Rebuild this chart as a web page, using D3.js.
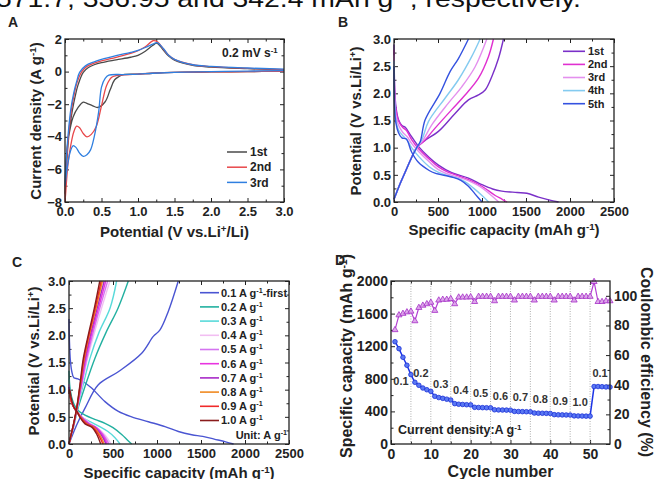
<!DOCTYPE html>
<html>
<head>
<meta charset="utf-8">
<script src="https://cdn.jsdelivr.net/npm/d3@7"></script>
<style>
  body { margin: 0; background: #fff; }
  svg { display: block; font-family: "Liberation Sans", Arial, sans-serif; }
  .tick text { font-weight: bold; fill: #222; }
  .ttl { font-size: 15px; font-weight: bold; fill: #222; }
  .plbl { font-size: 14px; font-weight: bold; fill: #222; }
  .leg { font-size: 11px; font-weight: bold; fill: #222; }
</style>
</head>
<body>
<script>
// ---- Panel A: cyclic voltammetry, [potential V, current density A/g]
const cvLabels = ["1st", "2nd", "3rd"];
const cv1st = [[3.0,0.02],[2.5,0.0],[2.0,-0.02],[1.5,-0.05],[1.2,-0.1],[1.0,-0.15],[0.8,-0.18],[0.74,-0.3],[0.68,-0.5],[0.62,-1.1],[0.55,-1.85],[0.45,-2.2],[0.38,-2.1],[0.3,-1.95],[0.25,-1.87],[0.18,-2.2],[0.11,-2.8],[0.05,-4.0],[0.02,-5.2],[0.0,-7.5],
  [0.02,-5.8],[0.06,-3.6],[0.1,-2.4],[0.14,-1.5],[0.18,-0.8],[0.25,-0.05],[0.32,0.25],[0.4,0.42],[0.5,0.55],[0.7,0.72],[0.9,0.88],[1.0,1.0],[1.1,1.25],[1.2,1.6],[1.26,1.74],[1.35,1.3],[1.42,0.95],[1.5,0.7],[1.75,0.38],[2.0,0.28],[2.5,0.18],[3.0,0.1]];
const cv2nd = [[3.0,0.02],[2.5,0.0],[2.0,-0.02],[1.5,-0.05],[1.2,-0.1],[1.0,-0.15],[0.8,-0.2],[0.7,-0.25],[0.64,-0.35],[0.57,-0.85],[0.5,-2.1],[0.43,-3.35],[0.36,-3.85],[0.3,-4.0],[0.25,-3.8],[0.2,-3.45],[0.16,-3.35],[0.12,-3.7],[0.08,-4.5],[0.04,-5.7],[0.0,-8.0],
  [0.02,-5.6],[0.05,-3.8],[0.09,-2.3],[0.13,-1.3],[0.17,-0.6],[0.23,0.0],[0.3,0.32],[0.4,0.52],[0.5,0.66],[0.7,0.88],[0.9,1.12],[1.0,1.28],[1.1,1.52],[1.21,1.9],[1.27,1.82],[1.35,1.38],[1.42,1.0],[1.5,0.75],[1.75,0.42],[2.0,0.3],[2.5,0.2],[3.0,0.12]];
const cv3rd = [[3.0,0.06],[2.5,0.03],[2.0,0.0],[1.5,-0.05],[1.2,-0.1],[1.0,-0.15],[0.8,-0.18],[0.6,-0.22],[0.55,-0.42],[0.5,-0.95],[0.46,-2.5],[0.4,-4.0],[0.35,-4.8],[0.3,-5.1],[0.25,-5.2],[0.2,-5.0],[0.15,-4.65],[0.11,-4.55],[0.07,-4.95],[0.03,-5.9],[0.0,-7.0],
  [0.02,-5.2],[0.05,-3.5],[0.08,-2.3],[0.12,-1.3],[0.16,-0.6],[0.2,-0.05],[0.28,0.35],[0.4,0.6],[0.5,0.75],[0.7,0.98],[0.9,1.18],[1.0,1.3],[1.1,1.48],[1.2,1.68],[1.26,1.78],[1.35,1.4],[1.42,1.0],[1.5,0.75],[1.75,0.42],[2.0,0.32],[2.5,0.22],[3.0,0.15]];

// ---- Panel B: first five cycles, [capacity mAh/g, potential V]
const cycleLabels = ["1st", "2nd", "3rd", "4th", "5th"];
const dis1st = [[0,2.9],[8,2.1],[22,1.75],[50,1.52],[90,1.41],[130,1.37],[180,1.25],[280,1.02],[400,0.82],[505,0.68],[656,0.54],[846,0.44],[998,0.32],[1120,0.24],[1225,0.2],[1400,0.175],[1510,0.16],[1643,0.09],[1760,0.04],[1870,0]];
const dis2nd = [[0,2.8],[8,2.0],[22,1.7],[50,1.5],[100,1.37],[140,1.32],[200,1.15],[280,0.98],[400,0.79],[500,0.65],[600,0.56],[700,0.5],[846,0.41],[998,0.29],[1080,0.2],[1150,0.12],[1230,0.05],[1285,0]];
const dis3rd = [[0,2.7],[8,1.9],[22,1.6],[50,1.42],[100,1.28],[150,1.2],[200,1.08],[280,0.93],[400,0.74],[500,0.6],[600,0.52],[700,0.47],[800,0.42],[900,0.35],[1000,0.26],[1100,0.13],[1190,0]];
const dis4th = [[0,2.6],[8,1.8],[22,1.5],[50,1.33],[100,1.22],[150,1.14],[200,1.0],[280,0.84],[400,0.65],[500,0.55],[600,0.49],[700,0.45],[800,0.38],[900,0.26],[1000,0.12],[1075,0]];
const dis5th = [[0,2.5],[8,1.7],[22,1.45],[50,1.28],[90,1.18],[140,1.16],[200,0.92],[277,0.73],[400,0.58],[466,0.53],[656,0.46],[760,0.4],[846,0.29],[920,0.15],[1000,0]];
const chg1st = [[0,0.05],[60,0.3],[130,0.56],[200,0.82],[258,1.0],[350,1.13],[505,1.3],[694,1.63],[846,1.88],[960,1.97],[1036,2.06],[1112,2.31],[1187,2.64],[1244,3.0]];
const chg2nd = [[0,0.05],[60,0.3],[130,0.56],[200,0.82],[258,1.0],[340,1.12],[467,1.36],[656,1.7],[808,1.97],[960,2.28],[1074,2.68],[1130,3.0]];
const chg3rd = [[0,0.05],[60,0.3],[130,0.56],[200,0.82],[258,1.0],[330,1.14],[429,1.42],[618,1.82],[770,2.12],[922,2.49],[1055,3.0]];
const chg4th = [[0,0.05],[60,0.3],[130,0.56],[200,0.82],[258,1.0],[320,1.16],[391,1.48],[580,1.91],[732,2.25],[884,2.68],[979,3.0]];
const chg5th = [[0,0.05],[60,0.3],[130,0.56],[200,0.82],[258,1.0],[300,1.12],[353,1.51],[523,2.0],[637,2.4],[732,2.64],[846,3.0]];

// ---- Panel C: rate curves, [capacity mAh/g, potential V]
const rateLabels = ["0.1", "0.2", "0.3", "0.4", "0.5", "0.6", "0.7", "0.8", "0.9", "1.0"];
const disR01 = [[0,2.3],[5,1.9],[15,1.55],[30,1.35],[55,1.22],[100,1.2],[150,1.16],[250,1.04],[409,0.78],[561,0.6],[712,0.5],[902,0.41],[1091,0.32],[1243,0.23],[1395,0.17],[1520,0.14],[1650,0.09],[1780,0.04],[1870,0]];
const disR02 = [[0,1.35],[10,1.05],[30,0.86],[60,0.72],[100,0.62],[182,0.53],[300,0.45],[409,0.38],[500,0.3],[602,0.17],[660,0.08],[712,0]];
const disR03 = [[0,1.2],[10,0.95],[30,0.78],[60,0.66],[120,0.52],[239,0.41],[350,0.32],[443,0.23],[520,0.12],[580,0]];
const disR04 = [[0,1.1],[10,0.93],[30,0.78],[60,0.66],[120,0.54],[180,0.46],[250,0.37],[330,0.29],[410,0.16],[478,0]];
const disR05 = [[0,1.1],[10,0.92],[30,0.77],[60,0.66],[115,0.55],[170,0.46],[235,0.37],[315,0.3],[390,0.17],[455,0]];
const disR06 = [[0,1.05],[10,0.92],[30,0.77],[60,0.66],[110,0.55],[160,0.46],[225,0.37],[300,0.31],[375,0.18],[435,0]];
const disR07 = [[0,1.05],[10,0.9],[30,0.76],[60,0.66],[105,0.56],[150,0.47],[215,0.37],[290,0.31],[360,0.18],[420,0]];
const disR08 = [[0,1.0],[10,0.9],[30,0.76],[60,0.66],[100,0.57],[145,0.47],[205,0.37],[280,0.31],[345,0.18],[400,0]];
const disR09 = [[0,1.0],[10,0.9],[30,0.76],[60,0.66],[95,0.58],[135,0.48],[195,0.37],[270,0.31],[330,0.18],[385,0]];
const disR10 = [[0,0.92],[8,1.0],[25,0.85],[55,0.68],[90,0.6],[125,0.49],[182,0.37],[258,0.31],[315,0.18],[360,0]];
const chgR01 = [[0,0],[87,0.35],[182,0.66],[333,1.09],[560,1.33],[826,1.67],[958,1.98],[1034,2.1],[1128,2.44],[1242,3.0]];
const chgR02 = [[0,0],[28,0.18],[56,0.35],[97,0.63],[180,1.05],[295,1.58],[420,2.05],[557,2.5],[674,3.0]];
const chgR03 = [[0,0],[28,0.18],[55,0.35],[95,0.64],[155,1.05],[239,1.58],[340,2.05],[466,2.5],[541,3.0]];
const chgR04 = [[0,0],[27,0.18],[54,0.35],[93,0.65],[145,1.05],[200,1.5],[280,2.0],[370,2.5],[465,3.0]];
const chgR05 = [[0,0],[27,0.18],[53,0.35],[92,0.66],[140,1.06],[192,1.5],[266,2.0],[350,2.5],[440,3.0]];
const chgR06 = [[0,0],[26,0.18],[52,0.35],[91,0.66],[137,1.07],[185,1.52],[256,2.02],[335,2.5],[418,3.0]];
const chgR07 = [[0,0],[26,0.18],[51,0.35],[90,0.66],[133,1.08],[177,1.53],[246,2.03],[320,2.5],[400,3.0]];
const chgR08 = [[0,0],[25,0.18],[50,0.35],[89,0.66],[130,1.1],[172,1.55],[238,2.05],[308,2.5],[380,3.0]];
const chgR09 = [[0,0],[25,0.18],[50,0.35],[88,0.66],[128,1.1],[168,1.56],[232,2.05],[298,2.5],[366,3.0]];
const chgR10 = [[0,0],[25,0.18],[49,0.35],[87,0.66],[125,1.1],[163,1.58],[225,2.05],[288,2.5],[350,3.0]];

// ---- Panel D: rate performance
const cycleNumbers = d3.range(1, 56);
const capacity = [1255,1170,1064,966,851, 757,720,687,666,646, 585,570,560,550,540, 495,488,485,482,480,
  450,448,446,445,444, 420,418,417,416,415, 400,398,397,396,395, 380,378,377,376,375,
  360,358,357,356,355, 345,344,343,342,342, 705,705,703,700,698];
const efficiency = [77,87,88,89,89.5, 83,92,93.5,94.5,95.5, 90,97,97.5,97.5,98, 94.5,99,99,99,99.2,
  96,99.5,99.5,99.5,99.5, 96.5,99.5,99.5,99.5,99.5, 97,99.5,99.5,99.5,99.5, 97,99.5,99.5,99.5,99.5,
  97,99.5,99.5,99.5,99.5, 97,99.5,99.5,99.5,99.5, 109.5,96,96,96.5,96.5];
const rateSteps = ["0.1", "0.2", "0.3", "0.4", "0.5", "0.6", "0.7", "0.8", "0.9", "1.0", "0.1"];
const stepBoundaries = [5, 10, 15, 20, 25, 30, 35, 40, 45, 50];

// colours
const cvColors = ["#4a4a4a", "#e8474a", "#2f7fe0"];
const cycleColors = ["#7a30c8", "#e030d0", "#e490ee", "#84cbf0", "#3452e0"];
const rateColors = ["#4a55d2", "#22b0a0", "#58dada", "#f2bef2", "#d474f0", "#e834e0", "#a82ac8", "#f08a22", "#f02a2a", "#8a1c1c"];

const svg = d3.select("body").append("svg").attr("width", 655).attr("height", 479);

function supText(sel, before, s, after) {
  sel.append("tspan").text(before);
  sel.append("tspan").attr("baseline-shift", "super").attr("font-size", "65%").text(s);
  if (after) sel.append("tspan").text(after);
  return sel;
}

function panel(o) {
  const g = svg.append("g");
  const x = d3.scaleLinear().domain(o.xd).range([o.l, o.r]);
  const y = d3.scaleLinear().domain(o.yd).range([o.b, o.t]);
  const fs = o.fs || 13;
  const add = (axis, tr) => g.append("g").attr("transform", tr).attr("color", "#222").call(axis)
    .call(s => s.select(".domain").remove())
    .call(s => s.selectAll("text").style("font-size", fs + "px"));
  add(d3.axisBottom(x).tickValues(o.xt).tickFormat(o.xf).tickSizeInner(-4).tickSizeOuter(0).tickPadding(5), `translate(0,${o.b})`);
  add(d3.axisBottom(x).tickValues(o.xm).tickFormat("").tickSizeInner(-2.5).tickSizeOuter(0), `translate(0,${o.b})`);
  add(d3.axisTop(x).tickValues(o.xt).tickFormat("").tickSizeInner(-4).tickSizeOuter(0), `translate(0,${o.t})`);
  add(d3.axisTop(x).tickValues(o.xm).tickFormat("").tickSizeInner(-2.5).tickSizeOuter(0), `translate(0,${o.t})`);
  add(d3.axisLeft(y).tickValues(o.yt).tickFormat(o.yf).tickSizeInner(-4).tickSizeOuter(0).tickPadding(3), `translate(${o.l},0)`);
  add(d3.axisLeft(y).tickValues(o.ym).tickFormat("").tickSizeInner(-2.5).tickSizeOuter(0), `translate(${o.l},0)`);
  if (!o.noRight) {
    add(d3.axisRight(y).tickValues(o.yt).tickFormat("").tickSizeInner(-4).tickSizeOuter(0), `translate(${o.r},0)`);
    add(d3.axisRight(y).tickValues(o.ym).tickFormat("").tickSizeInner(-2.5).tickSizeOuter(0), `translate(${o.r},0)`);
  }
  const frame = () => g.append("rect").attr("x", o.l).attr("y", o.t)
    .attr("width", o.r - o.l).attr("height", o.b - o.t)
    .attr("fill", "none").attr("stroke", "#222").attr("stroke-width", 1.3);
  return { g, x, y, frame, fs };
}

const f1 = d3.format(".1f");

// top line of the surrounding text, cut by the page edge
svg.append("text").attr("x", -4).attr("y", 7).attr("font-size", 24).attr("fill", "#111")
  .attr("textLength", 585).attr("lengthAdjust", "spacingAndGlyphs")
  .call(s => supText(s, "571.7, 336.95 and 342.4 mAh g", "-1", ", respectively."));

// ================= A =================
const A = panel({ l: 65, r: 284, t: 39, b: 202, xd: [0, 3], yd: [-8, 2],
  xt: [0, 0.5, 1, 1.5, 2, 2.5, 3], xm: [0.25, 0.75, 1.25, 1.75, 2.25, 2.75], xf: f1,
  yt: [-8, -6, -4, -2, 0, 2], ym: [-7, -5, -3, -1, 1], yf: d3.format("d") });
const lineA = d3.line().x(d => A.x(d[0])).y(d => A.y(d[1])).curve(d3.curveCatmullRom.alpha(0.5));
[cv1st, cv2nd, cv3rd].forEach((s, i) => {
  A.g.append("path").attr("d", lineA(s)).attr("fill", "none")
    .attr("stroke", cvColors[i]).attr("stroke-width", 1.3);
});
A.frame();
cvLabels.forEach((t, i) => {
  const yy = 152 + i * 15.2;
  A.g.append("line").attr("x1", 227).attr("x2", 247).attr("y1", yy).attr("y2", yy)
    .attr("stroke", cvColors[i]).attr("stroke-width", 1.5);
  A.g.append("text").attr("class", "leg").attr("x", 250).attr("y", yy).attr("dy", "0.35em")
    .style("font-size", "12px").text(t);
});
A.g.append("text").attr("class", "leg").attr("x", 222).attr("y", 57).style("font-size", "12px")
  .call(s => supText(s, "0.2 mV s", "-1"));
svg.append("text").attr("class", "plbl").attr("x", 8).attr("y", 27).text("A");
svg.append("text").attr("class", "ttl").attr("x", 174.5).attr("y", 237).attr("text-anchor", "middle")
  .call(s => supText(s, "Potential (V vs.Li", "+", "/Li)"));
svg.append("text").attr("class", "ttl").attr("text-anchor", "middle")
  .attr("transform", "translate(40.5,121) rotate(-90)")
  .call(s => supText(s, "Current density (A g", "-1", ")"));

// ================= B =================
const capTicks = [0, 500, 1000, 1500, 2000, 2500];
const capMinor = [250, 750, 1250, 1750, 2250];
const vTicks = [0, 0.5, 1, 1.5, 2, 2.5, 3];
const vMinor = [0.25, 0.75, 1.25, 1.75, 2.25, 2.75];
const B = panel({ l: 394, r: 614, t: 39, b: 202, xd: [0, 2500], yd: [0, 3],
  xt: capTicks, xm: capMinor, xf: d3.format("d"), yt: vTicks, ym: vMinor, yf: f1 });
const lineB = d3.line().x(d => B.x(d[0])).y(d => B.y(d[1])).curve(d3.curveCatmullRom.alpha(0.5));
const bDis = [dis1st, dis2nd, dis3rd, dis4th, dis5th];
const bChg = [chg1st, chg2nd, chg3rd, chg4th, chg5th];
bDis.forEach((s, i) => {
  [s, bChg[i]].forEach(c => B.g.append("path").attr("d", lineB(c)).attr("fill", "none")
    .attr("stroke", cycleColors[i]).attr("stroke-width", 1.4));
});
B.frame();
cycleLabels.forEach((t, i) => {
  const yy = 51.3 + i * 13.1;
  B.g.append("line").attr("x1", 563).attr("x2", 585).attr("y1", yy).attr("y2", yy)
    .attr("stroke", cycleColors[i]).attr("stroke-width", 1.6);
  B.g.append("text").attr("class", "leg").attr("x", 588).attr("y", yy).attr("dy", "0.35em").text(t);
});
svg.append("text").attr("class", "plbl").attr("x", 338).attr("y", 27).text("B");
svg.append("text").attr("class", "ttl").attr("x", 504).attr("y", 235).attr("text-anchor", "middle")
  .call(s => supText(s, "Specific capacity (mAh g", "-1", ")"));
svg.append("text").attr("class", "ttl").attr("text-anchor", "middle")
  .attr("transform", "translate(360.5,121) rotate(-90)")
  .call(s => supText(s, "Potential (V vs.Li/Li", "+", ")"));

// ================= C =================
const C = panel({ l: 69, r: 289, t: 281, b: 444, xd: [0, 2500], yd: [0, 3],
  xt: capTicks, xm: capMinor, xf: d3.format("d"), yt: vTicks, ym: vMinor, yf: f1 });
const lineC = d3.line().x(d => C.x(d[0])).y(d => C.y(d[1])).curve(d3.curveCatmullRom.alpha(0.5));
const cDis = [disR01, disR02, disR03, disR04, disR05, disR06, disR07, disR08, disR09, disR10];
const cChg = [chgR01, chgR02, chgR03, chgR04, chgR05, chgR06, chgR07, chgR08, chgR09, chgR10];
cDis.forEach((s, i) => {
  [s, cChg[i]].forEach(c => C.g.append("path").attr("d", lineC(c)).attr("fill", "none")
    .attr("stroke", rateColors[i]).attr("stroke-width", 1.4));
});
C.frame();
rateLabels.forEach((t, i) => {
  const yy = 292.7 + i * 14.2;
  C.g.append("line").attr("x1", 200).attr("x2", 219).attr("y1", yy).attr("y2", yy)
    .attr("stroke", rateColors[i]).attr("stroke-width", 1.6);
  C.g.append("text").attr("class", "leg").attr("x", 221).attr("y", yy).attr("dy", "0.35em")
    .call(s => supText(s, t + " A g", "-1", i === 0 ? "-first" : null));
});
C.g.append("text").attr("class", "leg").attr("x", 287).attr("y", 435).attr("dy", "0.35em")
  .attr("text-anchor", "end").call(s => supText(s, "Unit: A g", "-1"));
svg.append("text").attr("class", "plbl").attr("x", 12).attr("y", 267).text("C");
svg.append("text").attr("class", "ttl").attr("x", 179).attr("y", 477.5).attr("text-anchor", "middle")
  .call(s => supText(s, "Specific capacity (mAh g", "-1", ")"));
svg.append("text").attr("class", "ttl").attr("text-anchor", "middle")
  .attr("transform", "translate(38.5,361) rotate(-90)")
  .call(s => supText(s, "Potential (V vs.Li/Li", "+", ")"));

// ================= D =================
const D = panel({ l: 391, r: 610, t: 281, b: 444, xd: [0, 55], yd: [0, 2000], fs: 14, noRight: true,
  xt: [0, 10, 20, 30, 40, 50], xm: [5, 15, 25, 35, 45], xf: d3.format("d"),
  yt: [0, 400, 800, 1200, 1600, 2000], ym: [200, 600, 1000, 1400, 1800], yf: d3.format("d") });
const yCE = d3.scaleLinear().domain([0, 110]).range([444, 281]);
D.g.append("g").attr("transform", "translate(610,0)").attr("color", "#222")
  .call(d3.axisRight(yCE).tickValues([0, 20, 40, 60, 80, 100]).tickSizeInner(-4).tickSizeOuter(0).tickPadding(4))
  .call(s => s.select(".domain").remove())
  .call(s => s.selectAll("text").style("font-size", "14px"));
D.g.append("g").attr("transform", "translate(610,0)").attr("color", "#222")
  .call(d3.axisRight(yCE).tickValues([10, 30, 50, 70, 90]).tickFormat("").tickSizeInner(-2.5).tickSizeOuter(0))
  .call(s => s.select(".domain").remove());

D.g.selectAll("line.step").data(stepBoundaries).join("line").attr("class", "step")
  .attr("x1", d => D.x(d)).attr("x2", d => D.x(d)).attr("y1", 281).attr("y2", 444)
  .attr("stroke", "#9a9a9a").attr("stroke-width", 0.8).attr("stroke-dasharray", "1,1.5");

const capPts = cycleNumbers.map((c, i) => [c, capacity[i]]);
const cePts = cycleNumbers.map((c, i) => [c, efficiency[i]]);
D.g.append("path").attr("d", d3.line().x(d => D.x(d[0])).y(d => D.y(d[1]))(capPts))
  .attr("fill", "none").attr("stroke", "#1c34e6").attr("stroke-width", 1.5);
D.g.selectAll("circle.cap").data(capPts).join("circle").attr("class", "cap")
  .attr("cx", d => D.x(d[0])).attr("cy", d => D.y(d[1])).attr("r", 2.3)
  .attr("fill", "#5a78f2").attr("stroke", "#1a30d8").attr("stroke-width", 0.8);
D.g.append("path").attr("d", d3.line().x(d => D.x(d[0])).y(d => yCE(d[1]))(cePts))
  .attr("fill", "none").attr("stroke", "#b23ed2").attr("stroke-width", 1.2);
const tri = d3.symbol().type(d3.symbolTriangle).size(16);
D.g.selectAll("path.ce").data(cePts).join("path").attr("class", "ce")
  .attr("transform", d => `translate(${D.x(d[0])},${yCE(d[1])})`).attr("d", tri)
  .attr("fill", "#dda6ea").attr("stroke", "#a52fc6").attr("stroke-width", 0.8);
D.frame();

rateSteps.forEach((t, i) => {
  const grp = capacity.slice(i * 5, i * 5 + 5);
  const yy = D.y(d3.mean(grp)) + (i === 0 ? 24 : -14);
  D.g.append("text").attr("x", D.x(i * 5 + 2.5)).attr("y", yy).attr("dy", "0.35em")
    .attr("text-anchor", "middle").attr("font-size", 11).attr("font-weight", "bold")
    .attr("fill", "#333").text(t);
});
D.g.append("text").attr("x", 398).attr("y", 430).attr("dy", "0.35em").attr("font-size", 12.5)
  .attr("font-weight", "bold").attr("fill", "#222")
  .call(s => supText(s, "Current density:A g", "-1"));
svg.append("text").attr("class", "plbl").attr("x", 335).attr("y", 265).text("D");
svg.append("text").attr("class", "ttl").style("font-size", "16px").attr("x", 500.5).attr("y", 477)
  .attr("text-anchor", "middle").text("Cycle number");
svg.append("text").attr("class", "ttl").style("font-size", "16px").attr("text-anchor", "middle")
  .attr("transform", "translate(352,356) rotate(-90)")
  .call(s => supText(s, "Specific capacity (mAh g", "-1", ")"));
svg.append("text").attr("class", "ttl").style("font-size", "16px").attr("text-anchor", "middle")
  .attr("transform", "translate(641,362) rotate(90)")
  .text("Coulombic efficiency (%)");
</script>
</body>
</html>
